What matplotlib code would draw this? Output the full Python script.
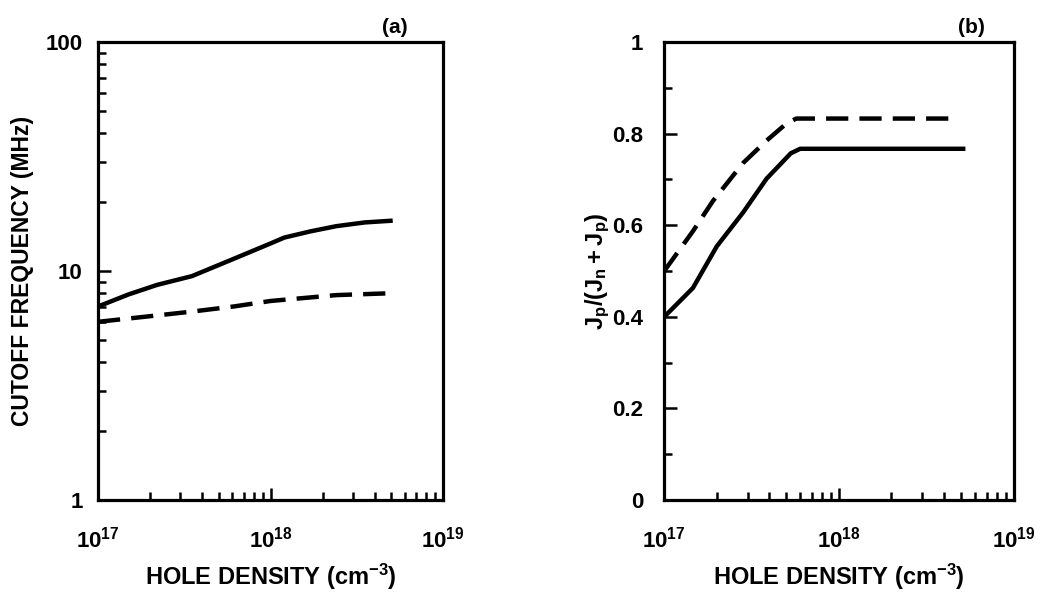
import matplotlib
matplotlib.use('Agg')
import matplotlib.pyplot as plt
import matplotlib.ticker as ticker
import numpy as np

plt.rcParams['font.family'] = ['Liberation Sans', 'DejaVu Sans']
plt.rcParams['font.weight'] = 'bold'
plt.rcParams['mathtext.fontset'] = 'custom'
plt.rcParams['mathtext.rm'] = 'Liberation Sans:bold'
plt.rcParams['mathtext.it'] = 'Liberation Sans:bold'
plt.rcParams['mathtext.bf'] = 'Liberation Sans:bold'
plt.rcParams['mathtext.default'] = 'rm'

# panel (a): cutoff frequency vs hole density
dens_a_solid = [1.0e17, 1.5e17, 2.2e17, 3.5e17, 6.1e17, 1.0e18, 1.2e18, 1.7e18, 2.4e18, 3.5e18, 5.1e18]
freq_solid = [7.0, 7.9, 8.7, 9.5, 11.3, 13.2, 14.0, 14.9, 15.7, 16.3, 16.6]
dens_a_dash = [1.0e17, 2.0e17, 3.5e17, 6.1e17, 1.0e18, 2.4e18, 5.0e18]
freq_dash = [6.0, 6.35, 6.65, 7.0, 7.4, 7.85, 8.0]

# panel (b): Jp/(Jn+Jp) vs hole density
dens_b_solid = [1.0e17, 1.46e17, 2.0e17, 2.83e17, 3.86e17, 5.3e17, 6.0e17, 1.0e18, 5.3e18]
ratio_solid = [0.40, 0.463, 0.554, 0.628, 0.702, 0.757, 0.767, 0.767, 0.767]
dens_b_dash = [1.0e17, 1.46e17, 1.9e17, 2.83e17, 3.86e17, 5.0e17, 5.7e17, 1.0e18, 4.4e18]
ratio_dash = [0.50, 0.587, 0.653, 0.736, 0.785, 0.822, 0.833, 0.833, 0.833]

xticks = [1e17, 1e18, 1e19]
xlabels = [r'$10^{17}$', r'$10^{18}$', r'$10^{19}$']

fig = plt.figure(figsize=(10.46, 5.97), dpi=100)
ax1 = fig.add_axes([0.0937, 0.1625, 0.330, 0.767])
ax2 = fig.add_axes([0.635, 0.1625, 0.334, 0.767])

lw = 3.2
for ax in (ax1, ax2):
    for s in ax.spines.values():
        s.set_linewidth(2.3)
    ax.set_xscale('log')
    ax.set_xlim(1e17, 1e19)
    ax.set_xticks(xticks)
    ax.set_xticklabels(xlabels)
    ax.xaxis.set_minor_locator(ticker.LogLocator(base=10, subs=np.arange(2, 10)))
    ax.xaxis.set_minor_formatter(ticker.NullFormatter())
    ax.tick_params(which='both', direction='in', top=False, right=False,
                   labelsize=16, width=1.8)
    ax.tick_params(which='major', length=9)
    ax.tick_params(which='minor', length=6)
    ax.tick_params(axis='x', pad=19)
    ax.set_xlabel('HOLE DENSITY (cm$^{-3}$)', fontsize=17, fontweight='bold', labelpad=7)

ax1.plot(dens_a_solid, freq_solid, color='black', lw=lw, solid_capstyle='butt')
ax1.plot(dens_a_dash, freq_dash, color='black', lw=lw, dashes=(5, 2.5))
ax1.set_yscale('log')
ax1.set_ylim(1, 100)
ax1.set_yticks([1, 10, 100])
ax1.set_yticklabels(['1', '10', '100'])
ax1.yaxis.set_minor_locator(ticker.LogLocator(base=10, subs=np.arange(2, 10)))
ax1.yaxis.set_minor_formatter(ticker.NullFormatter())
ax1.tick_params(axis='y', pad=11)
ax1.set_ylabel('CUTOFF FREQUENCY (MHz)', fontsize=16.5, fontweight='bold', labelpad=8)
ax1.text(0.86, 1.012, '(a)', transform=ax1.transAxes, fontsize=15, fontweight='bold',
         ha='center', va='bottom')

ax2.plot(dens_b_solid, ratio_solid, color='black', lw=lw, solid_capstyle='butt')
ax2.plot(dens_b_dash, ratio_dash, color='black', lw=lw, dashes=(5, 2.5))
ax2.set_ylim(0, 1)
ax2.set_yticks([0, 0.2, 0.4, 0.6, 0.8, 1.0])
ax2.set_yticklabels(['0', '0.2', '0.4', '0.6', '0.8', '1'])
ax2.yaxis.set_minor_locator(ticker.MultipleLocator(0.1))
ax2.tick_params(axis='y', pad=15)
ax2.set_ylabel(r'$J_p/(J_n+J_p)$', fontsize=17, labelpad=0)
ax2.text(0.88, 1.012, '(b)', transform=ax2.transAxes, fontsize=15, fontweight='bold',
         ha='center', va='bottom')

fig.savefig('out.png', dpi=100)
